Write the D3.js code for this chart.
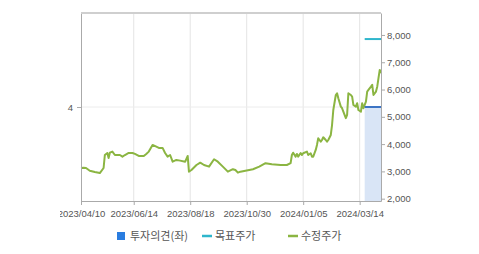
<!DOCTYPE html>
<html>
<head>
<meta charset="utf-8">
<script src="https://cdn.jsdelivr.net/npm/d3@7"></script>
<style>
  html, body { margin: 0; padding: 0; background: #fff; }
  svg text { font-family: "Liberation Sans", Arial, sans-serif; }
  .legend text { font-family: "Noto Sans CJK KR", sans-serif; }
</style>
</head>
<body>
<div id="chart"></div>
<script>
/* ── 투자의견 / 목표주가 / 수정주가 ─────────────────────────── */

// trading-day index of each price sample, and the adjusted price (수정주가)
const priceDays = [0, 2, 4, 7, 11, 15, 18, 19, 21, 22, 23, 25, 27, 31, 33, 35, 38, 41, 43, 46,
  50, 52, 54, 57, 60, 62, 65, 67, 69, 71, 73, 76, 79, 83, 85, 86, 88, 92, 95, 98,
  102, 106, 109, 113, 117, 121, 123, 125, 127, 131, 137, 142, 147, 152, 159, 164, 167, 168, 169, 171,
  172, 173, 175, 176, 177, 180, 181, 183, 184, 185, 187, 188, 189, 191, 192, 193, 195, 196, 197, 199,
  200, 201, 203, 204, 205, 207, 208, 209, 211, 212, 213, 215, 216, 217, 219, 220, 221, 223, 224, 225,
  227, 228, 229, 231, 232, 233, 235, 236, 237, 238, 239];
const prices = [3125, 3135, 3125, 3025, 2980, 2940, 3125, 3600, 3675, 3490, 3685, 3725, 3600, 3600, 3540, 3600, 3675, 3675, 3640, 3565,
  3565, 3640, 3725, 3970, 3905, 3860, 3860, 3675, 3540, 3600, 3355, 3420, 3395, 3355, 3565, 2990, 3050, 3235, 3320, 3235,
  3175, 3445, 3355, 3175, 2990, 3080, 3050, 2955, 2990, 3025, 3080, 3175, 3300, 3260, 3235, 3235, 3300, 3600, 3685, 3540,
  3640, 3540, 3675, 3600, 3665, 3725, 3600, 3665, 3540, 3540, 3785, 3970, 4215, 4090, 4150, 4250, 4150, 4090, 4150, 4335,
  4700, 5250, 5800, 5865, 5680, 5375, 5315, 5190, 4950, 5070, 5865, 5800, 5740, 5435, 5375, 5500, 5250, 5190, 5500, 5315,
  5555, 5925, 5985, 6105, 6170, 5800, 5925, 6105, 6415, 6720, 6600];

// 투자의견 (left axis) and 목표주가 (right axis), from their start day to the end
const opinionDays   = [226, 239];
const opinionValues = [4, 4];
const targetDays    = [226, 239];
const targetPrices  = [7850, 7850];

const xTickDays   = [0, 42, 87, 132, 177, 222];
const xTickLabels = ['2023/04/10', '2023/06/14', '2023/08/18', '2023/10/30', '2024/01/05', '2024/03/14'];
const priceTicks  = [2000, 3000, 4000, 5000, 6000, 7000, 8000];
const opinionTicks = [4];

const legendItems = ['투자의견(좌)', '목표주가', '수정주가'];

// ── layout ───────────────────────────────────────────────────
const W = 479, H = 254;
const ML = 81, MR = 98, MT = 13, MB = 53;
const plotW = W - ML - MR;
const plotH = H - MT - MB;

const GREEN = '#8bb542', TEAL = '#2fb6cc', BLUE = '#3c74c4', FILL = '#d9e5f6';

const svg = d3.select('#chart').append('svg')
  .attr('width', W).attr('height', H);

// the original chart area cuts the first date label on its left
svg.append('clipPath').attr('id', 'xclip')
  .append('rect').attr('x', 60).attr('y', 0).attr('width', W - 60).attr('height', H);

const x  = d3.scaleLinear().domain([0, 239]).range([ML, ML + plotW]);
const yR = d3.scaleLinear().domain([1915, 8805]).range([MT + plotH, MT]);
const yL = d3.scaleLinear().domain([0, 8]).range([MT + plotH, MT]);

// grid
svg.append('g').selectAll('line').data(xTickDays.slice(1)).join('line')
  .attr('x1', d => x(d)).attr('x2', d => x(d))
  .attr('y1', MT).attr('y2', MT + plotH)
  .attr('stroke', '#e4e4e4');
svg.append('g').selectAll('line').data(opinionTicks).join('line')
  .attr('x1', ML).attr('x2', ML + plotW)
  .attr('y1', d => yL(d)).attr('y2', d => yL(d))
  .attr('stroke', '#ececec');

// opinion area + line
const opData = opinionDays.map((d, i) => ({ d, v: opinionValues[i] }));
svg.append('path').datum(opData)
  .attr('fill', FILL)
  .attr('d', d3.area().x(p => x(p.d)).y0(yL(0)).y1(p => yL(p.v)));

// price line
const priceData = priceDays.map((d, i) => ({ d, v: prices[i] }));
svg.append('path').datum(priceData)
  .attr('fill', 'none').attr('stroke', GREEN).attr('stroke-width', 2)
  .attr('stroke-linejoin', 'round')
  .attr('d', d3.line().x(p => x(p.d)).y(p => yR(p.v)));

svg.append('path').datum(opData)
  .attr('fill', 'none').attr('stroke', BLUE).attr('stroke-width', 2)
  .attr('d', d3.line().x(p => x(p.d)).y(p => yL(p.v)));

// target price line
const tgData = targetDays.map((d, i) => ({ d, v: targetPrices[i] }));
svg.append('path').datum(tgData)
  .attr('fill', 'none').attr('stroke', TEAL).attr('stroke-width', 2)
  .attr('d', d3.line().x(p => x(p.d)).y(p => yR(p.v)));

// ── axes ─────────────────────────────────────────────────────
function styleAxis(g) {
  g.select('.domain').attr('stroke', '#aaa');
  g.selectAll('.tick line').attr('stroke', '#aaa');
  g.selectAll('.tick text').attr('fill', '#555').attr('font-size', 9.5);
}

const xAxisG = svg.append('g')
  .attr('transform', `translate(0,${MT + plotH})`)
  .attr('clip-path', 'url(#xclip)')
  .call(d3.axisBottom(x).tickValues(xTickDays)
    .tickFormat((d, i) => xTickLabels[i]).tickSize(4).tickSizeOuter(0).tickPadding(5))
  .call(styleAxis);

svg.append('g')
  .attr('transform', `translate(${ML + plotW},0)`)
  .call(d3.axisRight(yR).tickValues(priceTicks)
    .tickFormat(d3.format(',')).tickSize(4).tickSizeOuter(0).tickPadding(2))
  .call(styleAxis);

svg.append('g')
  .attr('transform', `translate(${ML},0)`)
  .call(d3.axisLeft(yL).tickValues(opinionTicks).tickSize(4).tickSizeOuter(0).tickPadding(4))
  .call(styleAxis);

// top border
svg.append('line')
  .attr('x1', ML).attr('x2', ML + plotW).attr('y1', MT).attr('y2', MT)
  .attr('stroke', '#cfcfcf').attr('stroke-width', 2);

// ── legend ───────────────────────────────────────────────────
const legend = svg.append('g').attr('class', 'legend');
const LY = 236;
legend.append('rect').attr('x', 117).attr('y', LY - 4).attr('width', 8).attr('height', 8)
  .attr('fill', '#2a7de0');
legend.append('line').attr('x1', 202).attr('x2', 212).attr('y1', LY).attr('y2', LY)
  .attr('stroke', TEAL).attr('stroke-width', 2.5);
legend.append('line').attr('x1', 288).attr('x2', 298).attr('y1', LY).attr('y2', LY)
  .attr('stroke', GREEN).attr('stroke-width', 2.5);
const legendX = [130, 215, 301];
legend.selectAll('text').data(legendItems).join('text')
  .attr('x', (d, i) => legendX[i]).attr('y', LY)
  .attr('dy', '0.36em')
  .attr('font-size', 11).attr('fill', '#555')
  .text(d => d);
</script>
</body>
</html>
